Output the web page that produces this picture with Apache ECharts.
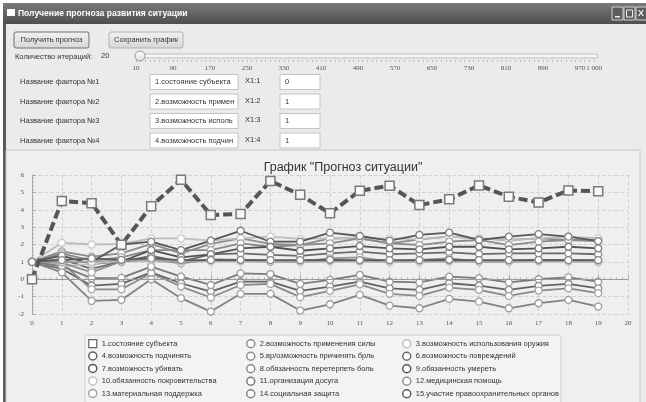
<!DOCTYPE html>
<html>
<head>
<meta charset="utf-8">
<script src="https://cdn.jsdelivr.net/npm/echarts@6/dist/echarts.min.js"></script>
<style>
html,body{margin:0;padding:0;background:#fff;}
#chart{width:646px;height:402px;}
</style>
</head>
<body>
<div id="chart"></div>
<script>
// ---------- data ----------
const xValues = [0,1,2,3,4,5,6,7,8,9,10,11,12,13,14,15,16,17,18,19];

const seriesNames = [
  '1.состояние субъекта',
  '2.возможность применения силы',
  '3.возможность использования оружия',
  '4.возможность подчинять',
  '5.вр/озможность причинять брль',
  '6.возможность повреждений',
  '7.возможность убивать',
  '8.обязанность перетерпеть боль',
  '9.обязанность умереть',
  '10.обязанность покровительства',
  '11.организация досуга',
  '12.медицинская помощь',
  '13.материальная поддержка',
  '14.социальная защита',
  '15.участие правоохранительных органов'
];

const s1  = [0, 4.5, 4.38, 1.98, 4.2, 5.73, 3.7, 3.76, 5.66, 4.86, 3.8, 5.09, 5.38, 4.27, 4.6, 5.4, 4.75, 4.42, 5.11, 5.06];
const s2  = [1, 1.6, 1.3, 1.49, 2.03, 1.49, 2.03, 2.35, 2.03, 1.97, 2.35, 2.35, 2.07, 2.3, 2.45, 2.35, 2.26, 2.35, 2.26, 2.3];
const s3  = [1, 2.1, 2.0, 2.03, 2.35, 2.35, 2.22, 2.35, 2.45, 2.32, 2.35, 2.35, 2.35, 2.3, 2.45, 2.35, 2.26, 2.35, 2.45, 2.36];
const s4  = [1, 0.6, -0.37, -0.27, 0.4, -0.23, -0.71, -0.14, -0.14, -0.67, -0.42, -0.14, -0.52, -0.61, -0.23, -0.37, -0.61, -0.38, -0.27, -0.52];
const s5  = [1, 1.49, 1.07, 1.26, 1.68, 1.68, 1.68, 2.07, 1.87, 1.97, 2.07, 2.35, 2.07, 1.97, 2.16, 2.26, 1.97, 2.16, 2.26, 2.2];
const s6  = [1, 1.15, 0.6, 1.02, 1.34, 1.02, 1.43, 1.49, 1.4, 1.34, 1.49, 1.59, 1.45, 1.49, 1.55, 1.45, 1.49, 1.49, 1.49, 1.44];
const s7  = [1, 1.0, 1.0, 2.0, 2.16, 1.68, 2.22, 2.79, 2.16, 2.16, 2.68, 2.49, 2.22, 2.55, 2.68, 2.26, 2.45, 2.6, 2.45, 2.2];
const s8  = [1, 0.95, -0.58, -0.58, 0.35, -0.42, -1.05, -0.33, -0.27, -1.03, -0.67, -0.29, -0.84, -0.96, -0.48, -0.61, -0.96, -0.65, -0.52, -0.8];
const s9  = [1, 1.36, 0.88, 1.02, 1.68, 1.26, 1.43, 1.78, 1.87, 1.64, 1.78, 1.91, 1.78, 1.72, 1.87, 1.87, 1.72, 1.78, 1.87, 1.78];
const s10 = [1, 0.73, 0.9, 1.05, 1.02, 1.0, 1.02, 1.02, 1.0, 1.0, 1.02, 1.0, 1.0, 0.98, 1.02, 1.0, 1.0, 1.02, 1.0, 0.98];
const s11 = [1, 0.75, 0.06, 0.08, 0.73, 0.15, -0.33, 0.34, 0.3, -0.27, -0.04, 0.25, -0.14, -0.18, 0.15, 0.06, -0.18, 0.0, 0.11, -0.14];
const s12 = [1, 0.96, 0.4, 1.02, 1.15, 0.92, 1.15, 1.11, 1.02, 1.02, 1.2, 1.26, 1.02, 1.11, 1.2, 1.02, 1.02, 1.07, 1.11, 1.05];
const s13 = [1, 1.0, 1.0, 1.1, 1.1, 1.05, 1.07, 1.05, 1.02, 1.02, 1.05, 1.05, 1.02, 1.02, 1.05, 1.02, 1.02, 1.05, 1.05, 1.02];
const s14 = [1, 0.4, -1.25, -1.19, 0.0, -1.09, -1.86, -0.84, -0.84, -1.8, -1.44, -0.9, -1.52, -1.67, -1.13, -1.29, -1.67, -1.38, -1.19, -1.57];
const s15 = [1, 1.1, 1.2, 1.12, 1.2, 1.1, 1.1, 1.12, 1.1, 1.1, 1.12, 1.1, 1.1, 1.1, 1.12, 1.1, 1.1, 1.12, 1.1, 1.1];
const seriesValues = [s1,s2,s3,s4,s5,s6,s7,s8,s9,s10,s11,s12,s13,s14,s15];

const seriesColors = ['#555555','#8c8c8c','#bdbdbd','#626262','#8a8a8a','#6a6a6a','#575757','#8a8a8a','#525252','#c2c2c2','#7a7a7a','#909090','#a4a4a4','#828282','#5c5c5c'];
const markerColors = ['#7a7a7a','#a8a8a8','#cccccc','#8c8c8c','#a8a8a8','#909090','#808080','#a8a8a8','#7c7c7c','#d0d0d0','#9c9c9c','#acacac','#bcbcbc','#a0a0a0','#868686'];

const sliderTicks = [10,90,170,250,330,410,490,570,650,730,810,890,970,1000];
const iterations = 20;
const factorLabels = ['Название фактора №1','Название фактора №2','Название фактора №3','Название фактора №4'];
const factorNames = ['1.состояние субъекта','2.возможность примен','3.возможность исполь','4.возможность подчин'];
const factorKeys = ['X1:1','X1:2','X1:3','X1:4'];
const factorValues = ['0','1','1','1'];

// ---------- chart ----------
const chart = echarts.init(document.getElementById('chart'), null, {renderer:'canvas'});
const SANS = '"Liberation Sans", Arial, sans-serif';
const SERIF = '"Liberation Serif", serif';

const g = [];
// window background & frame
g.push({type:'rect', shape:{x:0,y:0,width:646,height:402}, style:{fill:'#ffffff'}, z:-20, silent:true});
g.push({type:'rect', shape:{x:3,y:3,width:643,height:399}, style:{fill:'#ebebeb'}, z:-19, silent:true});
g.push({type:'rect', shape:{x:3,y:3,width:3,height:399}, style:{fill:'#5a5a5a'}, z:-18, silent:true});
g.push({type:'rect', shape:{x:3,y:3,width:643,height:21},
  style:{fill:new echarts.graphic.LinearGradient(0,0,0,1,[{offset:0,color:'#7a7a7a'},{offset:1,color:'#4e4e4e'}])}, z:-17, silent:true});
g.push({type:'rect', shape:{x:7,y:9,width:8,height:7}, style:{fill:'#ffffff'}, silent:true});
g.push({type:'text', x:18, y:14, style:{text:'Получение прогноза развития ситуации', fill:'#ffffff', fontSize:8.5, fontWeight:'bold', fontFamily:SANS, verticalAlign:'middle'}, silent:true});
[612,624,636].forEach(function(bx){
  g.push({type:'rect', shape:{x:bx,y:7,width:11,height:13}, style:{fill:'#5e5e5e', stroke:'#d0d0d0', lineWidth:1}, silent:true});
});
g.push({type:'rect', shape:{x:615,y:16,width:5,height:1.5}, style:{fill:'#eee'}, silent:true});
g.push({type:'rect', shape:{x:626.5,y:10,width:6,height:7}, style:{fill:'none', stroke:'#eee', lineWidth:1}, silent:true});
g.push({type:'text', x:638, y:14, style:{text:'X', fill:'#eee', fontSize:9, fontWeight:'bold', fontFamily:SANS, verticalAlign:'middle'}, silent:true});

// buttons
function button(x, w, label, stroke){
  g.push({type:'rect', shape:{x:x,y:32,width:w,height:16,r:2},
    style:{fill:new echarts.graphic.LinearGradient(0,0,0,1,[{offset:0,color:'#f2f2f2'},{offset:1,color:'#d6d6d6'}]), stroke:stroke, lineWidth:1}, silent:true});
  g.push({type:'text', x:x+w/2, y:40, style:{text:label, fill:'#333', fontSize:7.5, fontFamily:SANS, align:'center', verticalAlign:'middle'}, silent:true});
}
button(14, 75, 'Получить прогноз', '#707070');
button(109, 74, 'Сохранить график', '#b0b0b0');

// iterations label & slider
g.push({type:'text', x:15, y:57, style:{text:'Количество итераций:', fill:'#333', fontSize:7.5, fontFamily:SANS, verticalAlign:'middle'}, silent:true});
g.push({type:'text', x:101, y:56, style:{text:String(iterations), fill:'#333', fontSize:7.5, fontFamily:SANS, verticalAlign:'middle'}, silent:true});
g.push({type:'rect', shape:{x:136,y:54,width:462,height:4,r:2}, style:{fill:'#f6f6f6', stroke:'#bdbdbd', lineWidth:1}, silent:true});
g.push({type:'circle', shape:{cx:140,cy:56,r:5},
  style:{fill:new echarts.graphic.LinearGradient(0,0,0,1,[{offset:0,color:'#ffffff'},{offset:1,color:'#dcdcdc'}]), stroke:'#999', lineWidth:1}, z:5, silent:true});

// factor rows
factorLabels.forEach(function(lbl, i){
  const cy = 82 + i*19.5;
  g.push({type:'text', x:20, y:cy, style:{text:lbl, fill:'#333', fontSize:7.5, fontFamily:SANS, verticalAlign:'middle'}, silent:true});
  g.push({type:'rect', shape:{x:150,y:cy-7.5,width:88,height:15}, style:{fill:'#ffffff', stroke:'#c4c4c4', lineWidth:1}, silent:true});
  g.push({type:'text', x:155, y:cy, style:{text:factorNames[i], fill:'#333', fontSize:7.5, fontFamily:SANS, verticalAlign:'middle'}, silent:true});
  g.push({type:'text', x:245, y:cy-1, style:{text:factorKeys[i], fill:'#333', fontSize:7.5, fontFamily:SANS, verticalAlign:'middle'}, silent:true});
  g.push({type:'rect', shape:{x:280,y:cy-7.5,width:40,height:15}, style:{fill:'#ffffff', stroke:'#c4c4c4', lineWidth:1}, silent:true});
  g.push({type:'text', x:285, y:cy, style:{text:factorValues[i], fill:'#333', fontSize:7.5, fontFamily:SANS, verticalAlign:'middle'}, silent:true});
});

// chart panel
g.push({type:'rect', shape:{x:6,y:150,width:634,height:254}, style:{fill:'#efefef', stroke:'#c6c6c6', lineWidth:1}, z:-15, silent:true});
// legend box
g.push({type:'rect', shape:{x:85,y:335,width:476,height:68,r:2}, style:{fill:'#f3f3f3', stroke:'#cfcfcf', lineWidth:1}, z:-14, silent:true});

// series
const series = seriesValues.map(function(vals, i){
  const c = seriesColors[i];
  const isFirst = i === 0;
  const s = {
    name: seriesNames[i],
    type: 'line',
    xAxisIndex: 0, yAxisIndex: 0,
    data: xValues.map(function(x, k){ return [x, vals[k]]; }),
    symbol: isFirst ? 'rect' : 'circle',
    symbolSize: isFirst ? 9 : 7,
    showAllSymbol: true,
    z: isFirst ? 10 : 3,
    lineStyle: isFirst ? {color:c, width:4, type:[9,4]} : {color:c, width:1.8},
    itemStyle: isFirst ? {color:'#f8f8f8', borderColor:markerColors[i], borderWidth:1.5} : {color:'#ffffff', borderColor:markerColors[i], borderWidth:1.3},
    emphasis: {disabled:true},
    animation: false
  };
  if (i === 1) {
    s.markLine = {silent:true, symbol:['none','none'], label:{show:false}, animation:false,
      lineStyle:{color:'#9a9a9a', type:'solid', width:1}, data:[{yAxis:0}]};
  }
  return s;
});

function legendCol(indices, left){
  return {
    orient:'vertical', left:left, top:339, height:64, padding:0,
    itemWidth:8, itemHeight:8, itemGap:3, selectedMode:false,
    textStyle:{fontSize:7.5, color:'#333', fontFamily:SANS},
    data: indices.map(function(i){
      return {name:seriesNames[i], icon: i===0 ? 'rect' : 'circle',
        itemStyle:{color:'#ffffff', borderColor: i===0 ? '#666' : seriesColors[i], borderWidth: i===0 ? 1.2 : 1.5}};
    })
  };
}

const option = {
  backgroundColor: 'transparent',
  animation: false,
  title: {text:'График "Прогноз ситуации"', left:338, top:156, textAlign:'center',
    textStyle:{fontSize:12.5, fontWeight:'normal', color:'#333', fontFamily:SANS}},
  graphic: g,
  legend: [legendCol([0,3,6,9,12], 88), legendCol([1,4,7,10,13], 246), legendCol([2,5,8,11,14], 402)],
  grid: [
    {left:32, right:18, top:175, bottom:88},
    {left:136, right:52, top:59, height:1}
  ],
  xAxis: [
    {gridIndex:0, type:'value', min:0, max:20, interval:1,
      axisLine:{lineStyle:{color:'#a8a8a8'}},
      axisTick:{inside:true, length:4, lineStyle:{color:'#a8a8a8'}},
      minorTick:{show:true, splitNumber:5, length:2, lineStyle:{color:'#b4b4b4'}},
      splitLine:{show:true, lineStyle:{type:'dashed', color:'#d3d3d3'}},
      axisLabel:{fontSize:7, color:'#555', fontFamily:SERIF, margin:6}},
    {gridIndex:1, type:'value', min:10, max:1000, interval:10, position:'bottom',
      axisLine:{show:false},
      axisTick:{show:true, length:2, lineStyle:{color:'#b8b8b8'}},
      splitLine:{show:false},
      axisLabel:{customValues:sliderTicks, fontSize:7, color:'#555', fontFamily:SERIF, margin:5,
        formatter:function(v){ return v === 1000 ? '1 000' : String(v); }}}
  ],
  yAxis: [
    {gridIndex:0, type:'value', min:-2, max:6, interval:1,
      axisLine:{show:true, lineStyle:{color:'#a8a8a8'}},
      axisTick:{show:true, inside:true, length:4, lineStyle:{color:'#a8a8a8'}},
      minorTick:{show:true, splitNumber:5, length:2, lineStyle:{color:'#b4b4b4'}},
      splitLine:{show:true, lineStyle:{type:'dashed', color:'#d3d3d3'}},
      axisLabel:{fontSize:7, color:'#555', fontFamily:SERIF, margin:8}},
    {gridIndex:1, type:'value', min:0, max:1, show:false}
  ],
  series: series
};
chart.setOption(option);
</script>
</body>
</html>
